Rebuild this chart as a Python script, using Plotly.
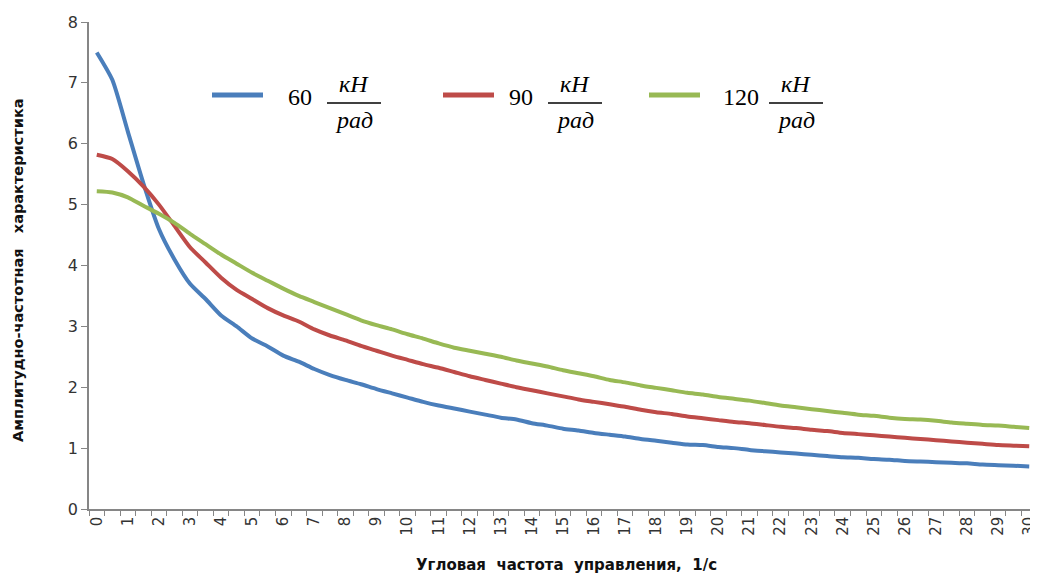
import plotly.graph_objects as go

freq = [i * 0.5 for i in range(61)]

amp_60 = [7.50, 7.05, 6.20, 5.35, 4.60, 4.10, 3.70, 3.45, 3.18, 3.00,
          2.80, 2.67, 2.52, 2.42, 2.30, 2.20, 2.12, 2.05, 1.97, 1.90,
          1.83, 1.76, 1.70, 1.65, 1.60, 1.55, 1.50, 1.47, 1.41, 1.37,
          1.32, 1.29, 1.25, 1.22, 1.19, 1.15, 1.12, 1.09, 1.06, 1.05,
          1.02, 1.00, 0.97, 0.95, 0.93, 0.91, 0.89, 0.87, 0.85, 0.84,
          0.82, 0.81, 0.79, 0.78, 0.77, 0.76, 0.75, 0.73, 0.72, 0.71, 0.70]

amp_90 = [5.82, 5.75, 5.55, 5.30, 5.00, 4.65, 4.30, 4.05, 3.80, 3.60,
          3.45, 3.30, 3.18, 3.08, 2.95, 2.85, 2.77, 2.68, 2.60, 2.52,
          2.45, 2.38, 2.32, 2.25, 2.18, 2.12, 2.06, 2.00, 1.95, 1.90,
          1.85, 1.80, 1.76, 1.72, 1.68, 1.63, 1.59, 1.56, 1.52, 1.49,
          1.46, 1.43, 1.41, 1.38, 1.35, 1.33, 1.30, 1.28, 1.25, 1.23,
          1.21, 1.19, 1.17, 1.15, 1.13, 1.11, 1.09, 1.07, 1.05, 1.04, 1.03]

amp_120 = [5.22, 5.20, 5.12, 4.98, 4.85, 4.70, 4.52, 4.35, 4.18, 4.03,
           3.88, 3.75, 3.62, 3.50, 3.40, 3.30, 3.20, 3.10, 3.02, 2.95,
           2.87, 2.80, 2.72, 2.65, 2.60, 2.55, 2.50, 2.44, 2.39, 2.34,
           2.28, 2.23, 2.18, 2.12, 2.08, 2.03, 1.99, 1.95, 1.91, 1.88,
           1.84, 1.81, 1.78, 1.74, 1.70, 1.67, 1.64, 1.61, 1.58, 1.55,
           1.53, 1.50, 1.48, 1.47, 1.45, 1.42, 1.40, 1.38, 1.37, 1.35, 1.33]

series_names = ["60", "90", "120"]
series_values = [amp_60, amp_90, amp_120]
colors = ["#4A7EBB", "#BE4B48", "#98B954"]

x_ticks = list(range(0, 31))
y_ticks = list(range(0, 9))

x_title = "Угловая\u00a0 частота\u00a0 управления,\u00a0 1/с"
y_title = "Амплитудно-частотная\u00a0\u00a0 характеристика"
unit_top = "кН"
unit_bottom = "рад"

# page body has an 8px margin; the figure is sized/positioned to compensate
OFF = 8
W, H = 1038, 569
ML, MR, MT, MB = 81, 9, 14, 68
PW, PH = W - ML - MR, H - MT - MB


def px(xp):
    # window pixel x -> paper fraction
    return (xp - OFF - ML) / PW


def py(yp):
    # window pixel y -> paper fraction
    return (H - MB - (yp - OFF)) / PH


fig = go.Figure()
for name, vals, col in zip(series_names, series_values, colors):
    fig.add_trace(go.Scatter(x=freq, y=vals, mode="lines", name=name,
                             line=dict(color=col, width=4, shape="spline", smoothing=0.6),
                             showlegend=False))

axis_col = "#868686"
fig.update_layout(
    width=W, height=H,
    margin=dict(l=ML, r=MR, t=MT, b=MB, autoexpand=False),
    paper_bgcolor="white", plot_bgcolor="white",
    xaxis=dict(range=[-0.25, 30.25], tickmode="array", tickvals=x_ticks,
               ticktext=[str(v) for v in x_ticks], tickangle=-90,
               ticks="", showgrid=False, zeroline=False, automargin=False,
               ticklabeloverflow="allow",
               showline=True, linecolor=axis_col, linewidth=1.5,
               tickfont=dict(family="DejaVu Sans", size=15, color="#333333"),
               minor=dict(tick0=-0.25, dtick=0.5, ticks="outside", ticklen=5,
                          tickcolor=axis_col, tickwidth=1, showgrid=False)),
    yaxis=dict(range=[0, 8], tickmode="array", tickvals=y_ticks,
               ticks="outside", ticklen=6, tickcolor=axis_col, tickwidth=1,
               showgrid=False, zeroline=False, automargin=False,
               showline=True, linecolor=axis_col, linewidth=1.5,
               tickfont=dict(family="DejaVu Sans", size=16, color="#333333")),
    font=dict(family="DejaVu Sans"),
)

anns = []
shapes = []
# axis titles
anns.append(dict(x=px(566), y=py(565), xref="paper", yref="paper", text="<b>" + x_title + "</b>",
                 showarrow=False, font=dict(family="DejaVu Sans", size=15, color="#111111"),
                 xanchor="center", yanchor="middle"))
anns.append(dict(x=px(18), y=py(270), xref="paper", yref="paper", text="<b>" + y_title + "</b>",
                 showarrow=False, textangle=-90,
                 font=dict(family="DejaVu Sans", size=14.5, color="#111111"),
                 xanchor="center", yanchor="middle"))

# custom legend with fraction units
legend_items = [
    (212, 263, 300, 354),
    (443, 494, 521, 575),
    (649, 700, 741, 796),
]
for (lx0, lx1, numx, fracx), name, col in zip(legend_items, series_names, colors):
    shapes.append(dict(type="line", xref="paper", yref="paper",
                       x0=px(lx0), x1=px(lx1), y0=py(95), y1=py(95),
                       line=dict(color=col, width=5)))
    anns.append(dict(x=px(numx), y=py(97), xref="paper", yref="paper", text=name,
                     showarrow=False, xanchor="center", yanchor="middle",
                     font=dict(family="Liberation Serif", size=24, color="black")))
    anns.append(dict(x=px(fracx), y=py(84), xref="paper", yref="paper",
                     text="<i>" + unit_top + "</i>",
                     showarrow=False, xanchor="center", yanchor="middle",
                     font=dict(family="Liberation Serif", size=24, color="black")))
    shapes.append(dict(type="line", xref="paper", yref="paper",
                       x0=px(fracx - 27), x1=px(fracx + 27), y0=py(103), y1=py(103),
                       line=dict(color="black", width=1.3)))
    anns.append(dict(x=px(fracx), y=py(120), xref="paper", yref="paper",
                     text="<i>" + unit_bottom + "</i>",
                     showarrow=False, xanchor="center", yanchor="middle",
                     font=dict(family="Liberation Serif", size=24, color="black")))

fig.update_layout(annotations=anns, shapes=shapes)
fig.write_html("out.html")
